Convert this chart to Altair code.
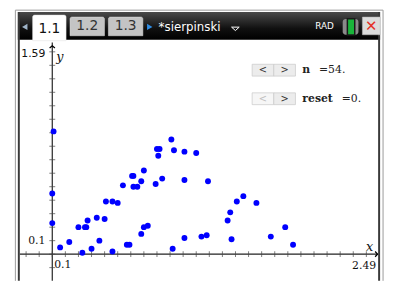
import altair as alt
import pandas as pd

# ---- data ----
xs = [0.01, 0.00, 0.00, 0.06, 0.13, 0.20, 0.25, 0.26, 0.27, 0.34, 0.40, 0.41, 0.46, 0.50,
      0.54, 0.61, 0.62, 0.62, 0.65, 0.68, 0.70, 0.79, 0.80, 0.82, 0.81, 0.23, 0.30, 0.36,
      0.46, 0.57, 0.59, 0.68, 0.70, 0.73, 0.91, 0.93, 1.01, 1.10, 0.84, 1.01, 1.19, 1.41,
      1.36, 1.34, 1.37, 1.01, 1.14, 1.18, 0.92, 1.46, 1.56, 1.67, 1.78, 1.84]
ys = [0.91, 0.45, 0.23, 0.05, 0.09, 0.20, 0.20, 0.20, 0.25, 0.27, 0.26, 0.39, 0.39, 0.38,
      0.51, 0.58, 0.58, 0.50, 0.50, 0.54, 0.62, 0.52, 0.78, 0.78, 0.73, 0.01, 0.04, 0.10,
      0.02, 0.07, 0.07, 0.15, 0.20, 0.21, 0.85, 0.77, 0.76, 0.75, 0.56, 0.55, 0.54, 0.39,
      0.31, 0.25, 0.11, 0.12, 0.13, 0.14, 0.04, 0.43, 0.38, 0.13, 0.20, 0.07]

x_min, x_max = -0.248, 2.49
y_min, y_max = -0.198, 1.59
x_ticks = [round(-0.2 + 0.1 * i, 2) for i in range(27)]
y_ticks = [round(-0.1 + 0.1 * i, 2) for i in range(17)]

doc_name = "*sierpinski"
tabs = ["1.1", "1.2", "1.3"]
slider_n = ("n", "=54.")
slider_reset = ("reset", "=0.")

PLOT_H = 245

pts = pd.DataFrame({"x": xs, "y": ys})
xt = pd.DataFrame({"x": x_ticks})
yt = pd.DataFrame({"y": y_ticks})
one = pd.DataFrame({"a": [0]})

xs_scale = alt.Scale(domain=[x_min, x_max], nice=False, zero=False)
ys_scale = alt.Scale(domain=[y_min, y_max], nice=False, zero=False)
X = lambda v: alt.X(datum=v, type="quantitative", scale=xs_scale, axis=None)
Y = lambda v: alt.Y(datum=v, type="quantitative", scale=ys_scale, axis=None)

layers = []

def box(x, x2, y, y2, **kw):
    return alt.Chart(one).mark_rect(**kw).encode(
        x=alt.value(x), x2=alt.value(x2), y=alt.value(y), y2=alt.value(y2))

def line(x, x2, y, y2, **kw):
    return alt.Chart(one).mark_rule(**kw).encode(
        x=alt.value(x), x2=alt.value(x2), y=alt.value(y), y2=alt.value(y2))

def txt(s, x, y, **kw):
    return alt.Chart(one).mark_text(text=s, **kw).encode(x=alt.value(x), y=alt.value(y))

# ---- axes ----
axis_col = "#222222"
layers.append(alt.Chart(one).mark_rule(color=axis_col, strokeWidth=1.2).encode(
    x=X(x_min), x2=alt.X2(datum=x_max), y=Y(0)))
layers.append(alt.Chart(one).mark_rule(color=axis_col, strokeWidth=1.2).encode(
    x=X(0), y=Y(y_min), y2=alt.Y2(datum=y_max - 0.02)))
layers.append(alt.Chart(xt).mark_tick(orient="vertical", size=6, thickness=1, color="#444").encode(
    x=alt.X("x:Q", scale=xs_scale, axis=None), y=Y(0)))
layers.append(alt.Chart(yt).mark_tick(orient="horizontal", size=6, thickness=1, color="#444").encode(
    y=alt.Y("y:Q", scale=ys_scale, axis=None), x=X(0)))
layers.append(alt.Chart(one).mark_point(shape="M -0.7 -0.8 L 0 0 L -0.7 0.8", filled=False,
                                        stroke="#000", strokeWidth=1.3, size=45, opacity=1).encode(
    x=X(x_max - 0.005), y=Y(0)))
layers.append(alt.Chart(one).mark_point(shape="M -0.8 0.7 L 0 0 L 0.8 0.7", filled=False,
                                        stroke="#000", strokeWidth=1.3, size=45, opacity=1).encode(
    x=X(0), y=Y(y_max - 0.045)))

# ---- points ----
layers.append(alt.Chart(pts).mark_circle(size=36, color="#0000ff", opacity=1).encode(
    x=alt.X("x:Q", scale=xs_scale, axis=None), y=alt.Y("y:Q", scale=ys_scale, axis=None)))

# ---- axis labels ----
num_font = "DejaVu Serif"
layers.append(alt.Chart(one).mark_text(text="1.59", align="right", baseline="middle", font="DejaVu Sans",
                                       fontSize=11, color="#111", dx=-7, dy=15).encode(x=X(0), y=Y(y_max)))
layers.append(alt.Chart(one).mark_text(text="y", align="left", baseline="middle", font=num_font,
                                       fontStyle="italic", fontSize=13, color="#111", dx=4, dy=18).encode(x=X(0), y=Y(y_max)))
layers.append(alt.Chart(one).mark_text(text="0.1", align="right", baseline="middle", font=num_font,
                                       fontSize=11, color="#111", dx=-7, dy=0).encode(x=X(0), y=Y(0.1)))
layers.append(alt.Chart(one).mark_text(text="0.1", align="left", baseline="middle", font=num_font,
                                       fontSize=11, color="#111", dx=2, dy=11).encode(x=X(0), y=Y(0)))
layers.append(alt.Chart(one).mark_text(text="2.49", align="right", baseline="middle", font=num_font,
                                       fontSize=11, color="#111", dx=-2, dy=12).encode(x=X(x_max), y=Y(0)))
layers.append(alt.Chart(one).mark_text(text="x", align="right", baseline="middle", font=num_font,
                                       fontStyle="italic", fontSize=13, color="#111", dx=-5, dy=-7).encode(x=X(x_max), y=Y(0)))

# ---- frame / title bar ----
bar_grad = alt.Gradient(gradient="linear",
                        stops=[alt.GradientStop(color="#4a4a4a", offset=0),
                               alt.GradientStop(color="#101010", offset=0.6),
                               alt.GradientStop(color="#000000", offset=1)],
                        x1=0, x2=0, y1=0, y2=1)
layers.append(line(-4.5, -4.5, -30, PLOT_H, color="#9a9a9a", strokeWidth=1))
layers.append(line(369, 369, -30, PLOT_H, color="#9a9a9a", strokeWidth=1))
layers.append(line(-4.5, 369, -30, -30, color="#9a9a9a", strokeWidth=1))
layers.append(box(-2, 366, -28, 0, fill=bar_grad))
layers.append(box(-2, 0, -28, PLOT_H, color="#3a3a3a"))
layers.append(box(364, 366, -28, PLOT_H, color="#3a3a3a"))

# tabs
tab_pos = [(13, 47, -25, 1, "#ffffff"), (51, 86, -23, -4, "#c4c4c4"), (90, 125, -23, -4, "#c4c4c4")]
for (a, b, t, btm, f), lab in zip(tab_pos, tabs):
    layers.append(box(a, b, t, btm, fill=f, stroke="#e0e0e0", strokeWidth=0.5, cornerRadiusTopLeft=2, cornerRadiusTopRight=2))
    layers.append(txt(lab, (a + b) / 2, (t + btm) / 2 + (1 if f == "#ffffff" else 0), font="DejaVu Sans", fontSize=14,
                      color="#111" if f == "#ffffff" else "#333"))
layers.append(alt.Chart(one).mark_point(shape="triangle-left", filled=True, color="#9fb4c8", size=40, opacity=1).encode(
    x=alt.value(5), y=alt.value(-13)))
layers.append(alt.Chart(one).mark_point(shape="triangle-right", filled=True, color="#2f8de4", size=40, opacity=1).encode(
    x=alt.value(132), y=alt.value(-13)))
layers.append(txt(doc_name, 141, -13, align="left", font="DejaVu Sans", fontSize=12, color="#ffffff"))
layers.append(alt.Chart(one).mark_point(shape="M -1 -0.45 L 1 -0.45 L 0 0.45 Z", filled=False, stroke="#ffffff",
                                        strokeWidth=1, size=60, opacity=1).encode(x=alt.value(219), y=alt.value(-11)))
layers.append(txt("RAD", 300, -14, align="left", font="DejaVu Sans", fontSize=9, color="#ffffff"))
layers.append(box(328, 344, -21, -5, color="#8a8a8a", cornerRadius=3))
layers.append(box(332, 341, -22, -4, fill="#1a1a1a"))
layers.append(box(333.5, 339.5, -20.5, -5.5, fill="#19b53a"))
layers.append(box(348, 366, -23, -5, fill="#dcdcdc", stroke="#bbbbbb", strokeWidth=0.5))
layers.append(txt("✕", 357, -13.5, font="DejaVu Sans", fontSize=15, color="#e5302a", fontWeight="bold"))

# sliders
for (yy, faded), (name, val) in zip([(25, False), (54, True)], [slider_n, slider_reset]):
    layers.append(box(236, 258, yy, yy + 12, fill="#ececec" if not faded else "#f6f6f6", stroke="#c8c8c8", strokeWidth=0.7))
    layers.append(box(258, 280, yy, yy + 12, fill="#ececec", stroke="#c8c8c8", strokeWidth=0.7))
    layers.append(txt("<", 247, yy + 6, font="DejaVu Sans", fontSize=10, color="#333" if not faded else "#c0c0c0"))
    layers.append(txt(">", 269, yy + 6, font="DejaVu Sans", fontSize=10, color="#333"))
    layers.append(txt(name, 287, yy + 6, align="left", font="DejaVu Serif", fontSize=11, fontWeight="bold", color="#222"))
    layers.append(txt(val, 287 + (17 if name == "n" else 40), yy + 6, align="left", font="DejaVu Serif",
                      fontSize=11, color="#222"))

chart = alt.layer(*layers).properties(
    width=364, height=PLOT_H,
    padding={"left": 12, "top": 30, "right": 8, "bottom": 0},
    autosize=alt.AutoSizeParams(type="none"),
    background="#ffffff",
).configure_view(stroke=None)

chart.save("out.html", embed_options={"renderer": "svg", "actions": False})
